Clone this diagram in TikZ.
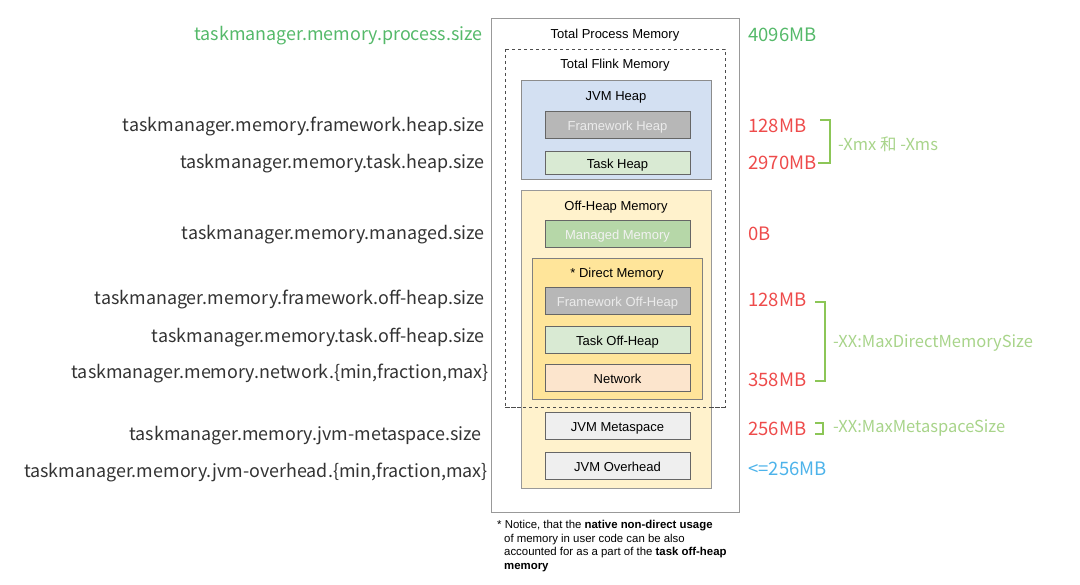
\documentclass[tikz,border=0pt]{standalone}
\usepackage{fontspec}
\setmainfont{Liberation Sans}
\newfontfamily\cjk{Noto Sans CJK SC}
\usetikzlibrary{positioning}

\definecolor{heapblue}{HTML}{D3E0F2}
\definecolor{offyellow}{HTML}{FFF2CC}
\definecolor{directyellow}{HTML}{FFE59A}
\definecolor{fwgray}{HTML}{B7B7B7}
\definecolor{taskgreen}{HTML}{D9EAD3}
\definecolor{mgdgreen}{HTML}{B6D7A8}
\definecolor{netorange}{HTML}{FCE5CD}
\definecolor{jvmgray}{HTML}{EFEFEF}
\definecolor{valred}{HTML}{EE4B4B}
\definecolor{procgreen}{HTML}{55B96A}
\definecolor{brgreen}{HTML}{8CC657}
\definecolor{optgreen}{HTML}{A8D48A}
\definecolor{valblue}{HTML}{4DB3EA}
\definecolor{keytext}{HTML}{333333}

\tikzset{
  inbox/.style={draw=black!60, line width=0.9pt, minimum width=145pt, minimum height=27pt,
    inner sep=0pt, text height=12pt, text depth=0.5pt, font=\fontsize{13}{15}\selectfont},
  boxlabel/.style={inner sep=0pt, yshift=-1pt, font=\fontsize{13}{15}\selectfont},
  key/.style={anchor=east, inner sep=0pt, yshift=-1.5pt, text=keytext, font=\cjk\fontsize{17.9}{20}\selectfont},
  val/.style={anchor=west, inner sep=0pt, yshift=-0.5pt, text=valred, font=\cjk\fontsize{18.5}{20}\selectfont},
  opt/.style={anchor=west, inner sep=0pt, yshift=-1pt, text=optgreen, font=\cjk\fontsize{16.5}{18}\selectfont},
  brack/.style={draw=brgreen, line width=2pt}
}

\begin{document}
\begin{tikzpicture}[x=1pt,y=-1pt]
    \useasboundingbox (0,0) rectangle (1080,585);

    % containers
    \draw[black!40, line width=1pt, fill=white] (491,19) rectangle (739,512);
    \node[boxlabel] (tpm) at (615,34.5) {Total Process Memory};
    \draw[black!70, dashed, line width=0.8pt] (505,49) rectangle (725,407);
    \node[boxlabel] (tfm) at (615,64.5) {Total Flink Memory};
    \draw[black!45, line width=1pt, fill=heapblue] (521,81) rectangle (711,180);
    \node[boxlabel] (jvmheap) at (616,96.5) {JVM Heap};
    \draw[black!40, line width=1pt, fill=offyellow] (521,191) rectangle (711,488);
    \node[boxlabel] (offheap) at (616,206.5) {Off-Heap Memory};
    \draw[black!50, line width=1pt, fill=directyellow] (532,259) rectangle (702,400);
    \node[boxlabel] (direct) at (617,273.5) {* Direct Memory};
    % redraw dashed edge over the yellow boxes
    \draw[black!70, dashed, line width=0.8pt] (505,407) -- (725,407);

    % leaf boxes
    \node[inbox, fill=fwgray, text=black!8] (fwheap) at (617.5,125) {Framework Heap};
    \node[inbox, fill=taskgreen, minimum height=23pt] (taskheap) at (617.5,162.5) {Task Heap};
    \node[inbox, fill=mgdgreen, text=black!5] (managed) at (617.5,233.5) {Managed Memory};
    \node[inbox, fill=fwgray, text=black!8] (fwoff) at (617.5,300.5) {Framework Off-Heap};
    \node[inbox, fill=taskgreen] (taskoff) at (617.5,339.5) {Task Off-Heap};
    \node[inbox, fill=netorange] (network) at (617.5,377.5) {Network};
    \node[inbox, fill=jvmgray] (meta) at (617.5,425.5) {JVM Metaspace};
    \node[inbox, fill=jvmgray] (overhead) at (617.5,465.5) {JVM Overhead};

    % footnote
    \node[anchor=north west, inner sep=0pt, align=left, font=\fontsize{11.4}{13.7}\selectfont] (note) at (497,520)
      {* Notice, that the \textbf{native non-direct usage}\\
       \hspace*{7pt}of memory in user code can be also\\
       \hspace*{7pt}accounted for as a part of the \textbf{task off-heap}\\
       \hspace*{7pt}\textbf{memory}};

    % config keys
    \node[key, text=procgreen] (kproc) at (483,34) {taskmanager.memory.process.size};
    \node[key] (kfwheap) at (485,125) {taskmanager.memory.framework.heap.size};
    \node[key] (ktaskheap) at (485,162) {taskmanager.memory.task.heap.size};
    \node[key] (kmanaged) at (485,233) {taskmanager.memory.managed.size};
    \node[key] (kfwoff) at (485,298) {taskmanager.memory.framework.off-heap.size};
    \node[key] (ktaskoff) at (485,336) {taskmanager.memory.task.off-heap.size};
    \node[key] (knet) at (489,372) {taskmanager.memory.network.\{min,fraction,max\}};
    \node[key] (kmeta) at (482,434) {taskmanager.memory.jvm-metaspace.size};
    \node[key] (kover) at (488,471) {taskmanager.memory.jvm-overhead.\{min,fraction,max\}};

    % values
    \node[val, text=procgreen] (vproc) at (748,34) {4096MB};
    \node[val] (vfwheap) at (748,125) {128MB};
    \node[val] (vtaskheap) at (748,162) {2970MB};
    \node[val] (vmanaged) at (748,233) {0B};
    \node[val] (vfwoff) at (748,299) {128MB};
    \node[val] (vnet) at (748,379) {358MB};
    \node[val] (vmeta) at (748,428) {256MB};
    \node[val, text=valblue] (vover) at (748,468) {<=256MB};

    % brackets
    \coordinate (b1t) at (820,120); \coordinate (b1b) at (818,163);
    \draw[brack] (b1t) -- (830,120) -- (830,163) -- (b1b);
    \node[opt] (oheap) at (838,143) {-Xmx 和 -Xms};
    \coordinate (b2t) at (815,302); \coordinate (b2b) at (815,381);
    \draw[brack] (b2t) -- (825,302) -- (825,381) -- (b2b);
    \node[opt] (odirect) at (833,342) {-XX:MaxDirectMemorySize};
    \coordinate (b3t) at (815,423); \coordinate (b3b) at (815,434);
    \draw[brack] (b3t) -- (823,423) -- (823,434) -- (b3b);
    \node[opt] (ometa) at (833,427) {-XX:MaxMetaspaceSize};
\end{tikzpicture}
\end{document}
